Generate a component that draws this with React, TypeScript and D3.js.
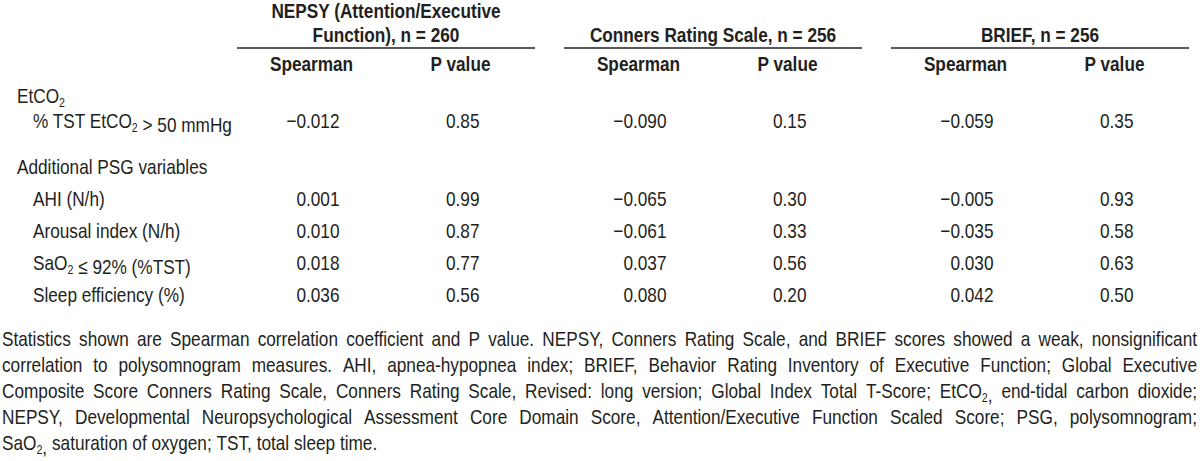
import React, { useEffect, useRef } from "react";
import * as d3 from "d3";

const W = 1200;
const H = 461;
const TEXT = "#231f20";

// ---- data ----
const measureHeaders: string[][] = [
  ["NEPSY (Attention/Executive", "Function), n = 260"],
  ["Conners Rating Scale, n = 256"],
  ["BRIEF, n = 256"],
];
const statHeaders = ["Spearman", "P value"];
const sectionTitles = ["EtCO_2", "Additional PSG variables"];
const rowLabels = [
  "% TST EtCO_2 > 50 mmHg",
  "AHI (N/h)",
  "Arousal index (N/h)",
  "SaO_2 ≤ 92% (%TST)",
  "Sleep efficiency (%)",
];
const nepsySpearman = [-0.012, 0.001, 0.01, 0.018, 0.036];
const nepsyP = [0.85, 0.99, 0.87, 0.77, 0.56];
const connersSpearman = [-0.09, -0.065, -0.061, 0.037, 0.08];
const connersP = [0.15, 0.3, 0.33, 0.56, 0.2];
const briefSpearman = [-0.059, -0.005, -0.035, 0.03, 0.042];
const briefP = [0.35, 0.93, 0.58, 0.63, 0.5];
const footnoteLines = [
  "Statistics shown are Spearman correlation coefficient and P value. NEPSY, Conners Rating Scale, and BRIEF scores showed a weak, nonsignificant",
  "correlation to polysomnogram measures. AHI, apnea-hypopnea index; BRIEF, Behavior Rating Inventory of Executive Function; Global Executive",
  "Composite Score Conners Rating Scale, Conners Rating Scale, Revised: long version; Global Index Total T-Score; EtCO_2, end-tidal carbon dioxide;",
  "NEPSY, Developmental Neuropsychological Assessment Core Domain Score, Attention/Executive Function Scaled Score; PSG, polysomnogram;",
  "SaO_2, saturation of oxygen; TST, total sleep time.",
];

const spearmanCols = [nepsySpearman, connersSpearman, briefSpearman];
const pCols = [nepsyP, connersP, briefP];

export default function App() {
  const ref = useRef<SVGSVGElement>(null);

  useEffect(() => {
    const svg = d3.select(ref.current);
    svg.selectAll("*").remove();

    const FS = 21;
    // detect narrow font
    const ctx = document.createElement("canvas").getContext("2d")!;
    const probe = "Spearman value 0123456789 abc";
    ctx.font = `${FS}px monospace`;
    const mono = ctx.measureText(probe).width;
    ctx.font = `${FS}px 'Liberation Sans Narrow', monospace`;
    const nar = ctx.measureText(probe).width;
    const hasNarrow = Math.abs(mono - nar) > 0.5;
    const family = hasNarrow
      ? "'Liberation Sans Narrow', 'Arial Narrow', sans-serif"
      : "'Liberation Sans', Arial, sans-serif";
    const sx = hasNarrow ? 1 : 0.82;
    const X = (v: number) => v / sx;

    const g = svg
      .append("g")
      .attr("transform", `scale(${sx},1)`)
      .attr("font-family", family)
      .attr("font-size", FS)
      .attr("fill", TEXT);

    const addRich = (
      sel: d3.Selection<any, any, any, any>,
      str: string
    ) => {
      const parts = str.split(/_(\d)/);
      parts.forEach((p, i) => {
        if (p === "") return;
        if (i % 2 === 1) {
          sel.append("tspan").attr("dy", 4).attr("font-size", FS * 0.62).text(p);
          sel.append("tspan").attr("dy", -4).text("");
        } else {
          sel.append("tspan").text(p);
        }
      });
      return sel;
    };

    // ---- scales ----
    const groupX = d3
      .scaleBand<number>()
      .domain([0, 1, 2])
      .range([237, 1189])
      .paddingInner(29 / 327)
      .paddingOuter(0);
    const subX = d3
      .scaleBand<string>()
      .domain(statHeaders)
      .range([0, groupX.bandwidth()]);
    const colCenter = (gi: number, s: string) =>
      (groupX(gi) as number) + (subX(s) as number) + subX.bandwidth() / 2;

    // body rows baselines
    const rowY = d3.scaleLinear().domain([1, 4]).range([206, 302]);
    const sectionY = [103, 174];
    const rowBaseline = [128, rowY(1), rowY(2), rowY(3), rowY(4)];

    const fmtS = d3.format(".3f");
    const fmtP = d3.format(".2f");

    // ---- headers ----
    measureHeaders.forEach((lines, gi) => {
      const cx = (groupX(gi) as number) + groupX.bandwidth() / 2;
      lines.forEach((ln, li) => {
        const y = 42 - (lines.length - 1 - li) * 24;
        g.append("text")
          .attr("x", X(cx))
          .attr("y", y)
          .attr("text-anchor", "middle")
          .attr("font-weight", "bold")
          .text(ln);
      });
      svg
        .append("line")
        .attr("x1", groupX(gi) as number)
        .attr("x2", (groupX(gi) as number) + groupX.bandwidth())
        .attr("y1", 48)
        .attr("y2", 48)
        .attr("stroke", TEXT)
        .attr("stroke-width", 1.4);
      statHeaders.forEach((s) => {
        g.append("text")
          .attr("x", X(colCenter(gi, s)))
          .attr("y", 71)
          .attr("text-anchor", "middle")
          .attr("font-weight", "bold")
          .text(s);
      });
    });

    // ---- section titles & row labels ----
    sectionTitles.forEach((t, i) => {
      addRich(g.append("text").attr("x", X(17)).attr("y", sectionY[i]), t);
    });
    rowLabels.forEach((t, i) => {
      addRich(g.append("text").attr("x", X(33)).attr("y", rowBaseline[i]), t);
    });

    // ---- values ----
    [0, 1, 2].forEach((gi) => {
      spearmanCols[gi].forEach((v, i) => {
        g.append("text")
          .attr("x", X(colCenter(gi, "Spearman") + 28))
          .attr("y", rowBaseline[i])
          .attr("text-anchor", "end")
          .text(fmtS(v));
      });
      pCols[gi].forEach((v, i) => {
        g.append("text")
          .attr("x", X(colCenter(gi, "P value") + 19))
          .attr("y", rowBaseline[i])
          .attr("text-anchor", "end")
          .text(fmtP(v));
      });
    });

    // ---- footnote (justified) ----
    const fLeft = 2;
    const fRight = 1197;
    const fY = d3.scaleLinear().domain([0, 4]).range([346, 450]);
    footnoteLines.forEach((line, li) => {
      const words = line.split(" ");
      const nodes = words.map((w) =>
        addRich(g.append("text").attr("y", fY(li)), w)
      );
      const widths = nodes.map((n) => (n.node() as SVGTextElement).getComputedTextLength());
      const total = d3.sum(widths);
      const last = li === footnoteLines.length - 1;
      const spaceW = last
        ? FS * 0.278
        : (X(fRight - fLeft) - total) / (words.length - 1);
      let x = X(fLeft);
      nodes.forEach((n, i) => {
        n.attr("x", x);
        x += widths[i] + spaceW;
      });
    });
  }, []);

  return (
    <svg
      ref={ref}
      width={W}
      height={H}
      style={{ position: "absolute", left: 0, top: 0, display: "block", background: "#fff" }}
    />
  );
}
